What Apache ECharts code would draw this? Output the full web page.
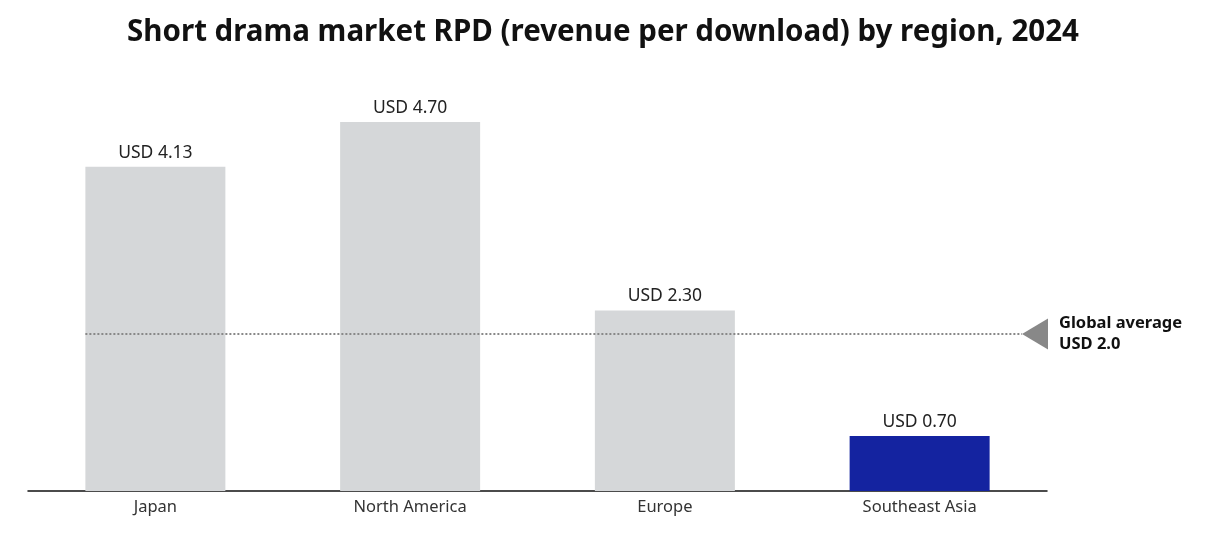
<!DOCTYPE html>
<html>
<head>
<meta charset="utf-8">
<script src="https://cdn.jsdelivr.net/npm/echarts@6/dist/echarts.min.js"></script>
<style>
    html, body { margin: 0; padding: 0; background: #fff; }
    #chartDiv { width: 1206px; height: 547px; }
</style>
</head>
<body>
<div id="chartDiv"></div>
<script>
var regions = ['Japan', 'North America', 'Europe', 'Southeast Asia'];
var rpdValues = [4.13, 4.70, 2.30, 0.70];
var globalAverage = 2.0;

var greyBar = '#d5d7d9';
var blueBar = '#1423a0';

var myChart = echarts.init(document.getElementById('chartDiv'));

var barData = rpdValues.map(function (v, i) {
    return {
        value: v,
        itemStyle: { color: i === 3 ? blueBar : greyBar }
    };
});

var option = {
    backgroundColor: '#fff',
    animation: false,
    title: {
        text: 'Short drama market RPD (revenue per download) by region, 2024',
        left: 'center',
        top: 13,
        textStyle: {
            fontFamily: 'Noto Sans',
            fontWeight: 'bold',
            fontSize: 29.5,
            color: '#111'
        }
    },
    grid: {
        left: 28,
        right: 159,
        top: 98.5,
        bottom: 56
    },
    xAxis: {
        type: 'category',
        data: regions,
        axisLine: { lineStyle: { color: '#111', width: 1.5 } },
        axisTick: { show: false },
        axisLabel: {
            margin: 8,
            fontFamily: 'Noto Sans',
            fontSize: 16.5,
            color: '#333'
        }
    },
    yAxis: {
        type: 'value',
        min: 0,
        max: 5,
        show: false,
        splitLine: { show: false }
    },
    series: [{
        type: 'bar',
        data: barData,
        barWidth: 140,
        label: {
            show: true,
            position: 'top',
            distance: 5,
            fontFamily: 'Noto Sans',
            fontSize: 17.5,
            color: '#222',
            formatter: function (p) {
                return 'USD ' + p.value.toFixed(2);
            }
        }
    }]
};

myChart.setOption(option);

// 全球平均线：用坐标轴换算出像素位置再画
var avgY = myChart.convertToPixel({ yAxisIndex: 0 }, globalAverage);
var lineStart = myChart.convertToPixel({ xAxisIndex: 0 }, regions[0]) - 70;
var tipX = 1022;

myChart.setOption({
    graphic: [
        {
            type: 'line',
            z: 100,
            shape: { x1: lineStart, y1: avgY, x2: tipX, y2: avgY },
            style: { stroke: '#888', lineWidth: 2, lineDash: [2, 2] }
        },
        {
            type: 'polygon',
            z: 100,
            shape: { points: [[tipX, avgY], [tipX + 26, avgY - 15.5], [tipX + 26, avgY + 15.5]] },
            style: { fill: '#888' }
        },
        {
            type: 'text',
            z: 100,
            x: 1059,
            y: avgY,
            style: {
                text: 'Global average\nUSD ' + globalAverage.toFixed(1),
                fontFamily: 'Noto Sans',
                fontWeight: 'bold',
                fontSize: 16.5,
                lineHeight: 21,
                fill: '#111',
                verticalAlign: 'middle'
            }
        }
    ]
});
</script>
</body>
</html>
